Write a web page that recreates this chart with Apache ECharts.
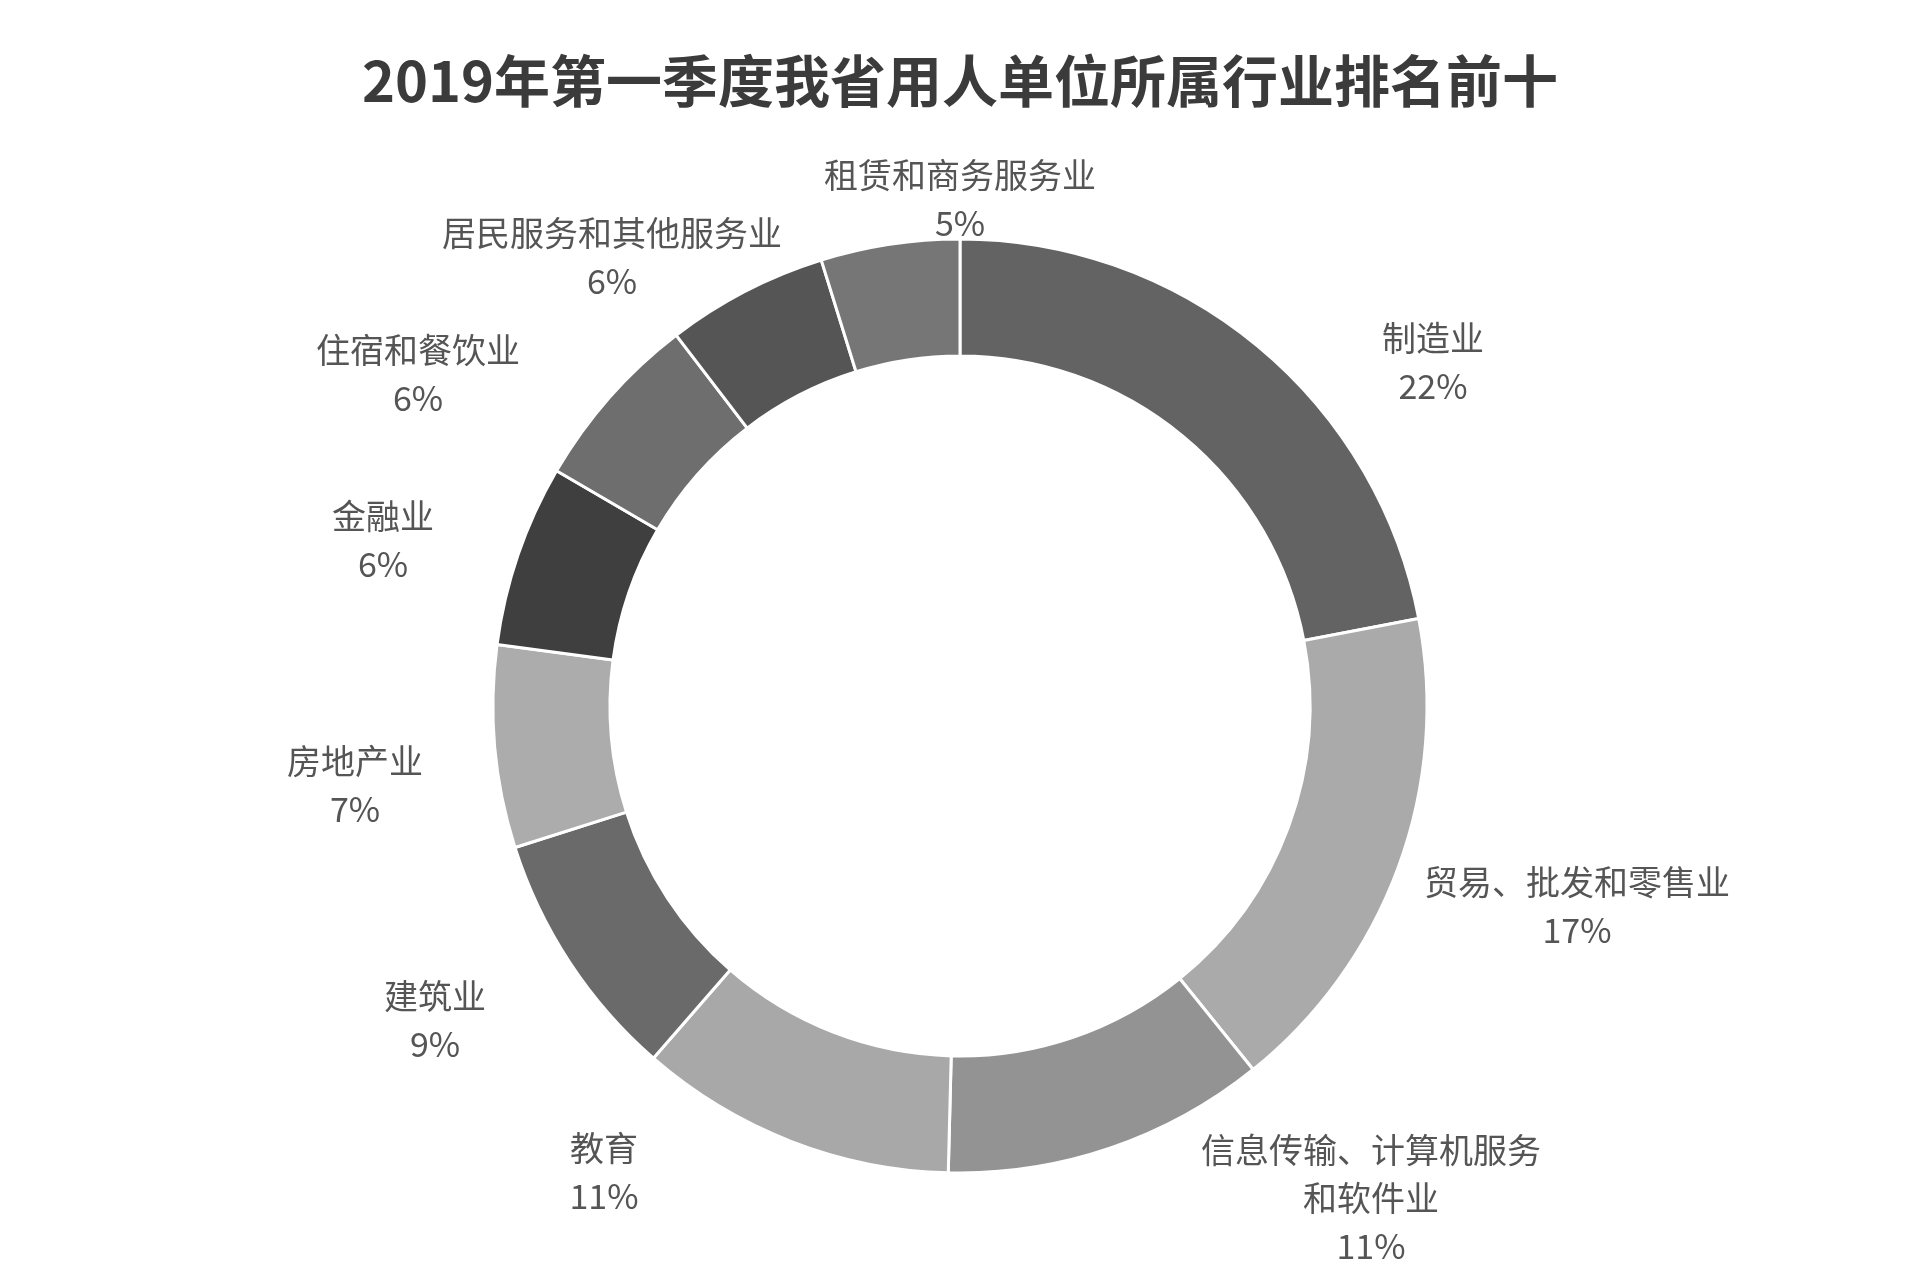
<!DOCTYPE html>
<html>
<head>
<meta charset="utf-8">
<script src="https://cdn.jsdelivr.net/npm/echarts@6/dist/echarts.min.js"></script>
<style>
html,body{margin:0;padding:0;background:#fff;}
#chart{width:1920px;height:1276px;}
</style>
</head>
<body>
<div id="chart"></div>
<script>
// ---- data ----
var titleText = '2019年第一季度我省用人单位所属行业排名前十';
var categories = ['制造业', '贸易、批发和零售业', '信息传输、计算机服务和软件业', '教育', '建筑业',
                  '房地产业', '金融业', '住宿和餐饮业', '居民服务和其他服务业', '租赁和商务服务业'];
var shares = [22.0, 17.2, 11.2, 11.0, 8.7, 7.0, 6.3, 6.2, 5.6, 4.8];

// ---- style / layout (kept separate from data) ----
var sliceColors = ['#636363', '#aaaaaa', '#939393', '#a8a8a8', '#6a6a6a',
                   '#acacac', '#3f3f3f', '#6e6e6e', '#555555', '#767676'];
var pieCenter = [960, 706];
var radii = [350, 467];
// label block centre offsets from pie centre (px)
var labelOffsets = [[473, -344], [617, 200], [411, 492], [-356, 466], [-525, 314],
                    [-605, 79], [-577, -166], [-542, -332], [-348, -449], [0, -507]];

var chart = echarts.init(document.getElementById('chart'), null, {renderer: 'canvas'});
var seriesData = categories.map(function (c, i) {
  return {name: c, value: shares[i], itemStyle: {color: sliceColors[i]}};
});

chart.setOption({
  backgroundColor: '#ffffff',
  animation: false,
  title: {
    text: titleText,
    left: 'center',
    top: 48,
    textStyle: {
      fontFamily: 'Noto Sans CJK SC',
      fontWeight: 'bold',
      fontSize: 56,
      color: '#3b3b3b'
    }
  },
  series: [{
    type: 'pie',
    center: pieCenter,
    radius: radii,
    startAngle: 90,
    clockwise: true,
    data: seriesData,
    itemStyle: {borderColor: '#ffffff', borderWidth: 3},
    labelLine: {show: false},
    label: {
      show: true,
      position: 'outside',
      fontFamily: 'Noto Sans CJK SC',
      fontSize: 34,
      lineHeight: 48,
      color: '#555555',
      formatter: function (p) {
        var n = p.name;
        if (n.length > 10) n = n.slice(0, 10) + '\n' + n.slice(10);
        return n + '\n' + Math.round(p.value) + '%';
      }
    },
    labelLayout: function (params) {
      var o = labelOffsets[params.dataIndex];
      return {
        x: pieCenter[0] + o[0],
        y: pieCenter[1] + o[1],
        align: 'center',
        verticalAlign: 'middle'
      };
    }
  }]
});
</script>
</body>
</html>
